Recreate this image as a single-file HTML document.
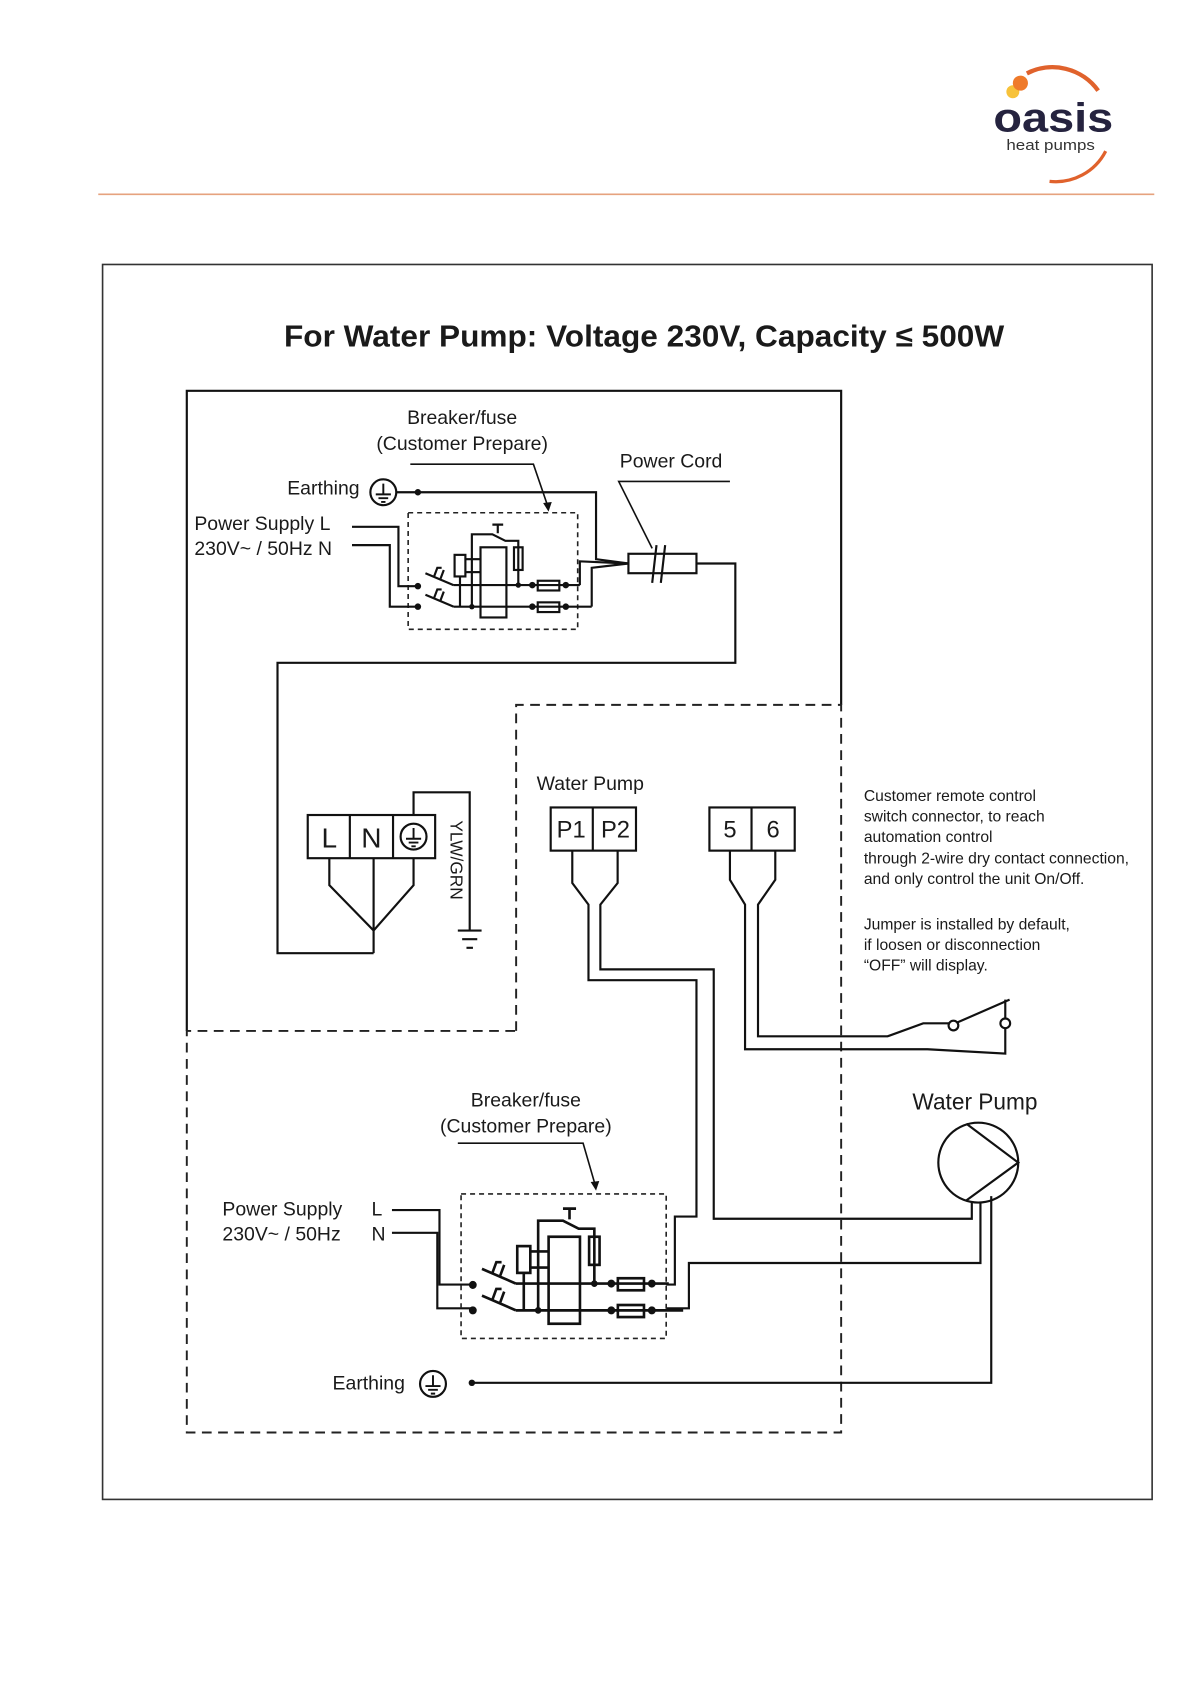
<!DOCTYPE html>
<html><head><meta charset="utf-8"><style>
html,body{margin:0;padding:0;background:#fff;}
svg{display:block;}
text{font-family:"Liberation Sans",sans-serif;fill:#1a1a1a;}
</style></head><body>
<svg width="1191" height="1684" viewBox="0 0 1103 1560" preserveAspectRatio="none" xmlns="http://www.w3.org/2000/svg">
<defs>
<g id="brk">
  <rect x="378" y="475" width="157" height="108" fill="none" stroke="#222" stroke-width="1.6" stroke-dasharray="5,4" vector-effect="non-scaling-stroke"/>
  <g fill="none" stroke="#111" stroke-width="2" vector-effect="non-scaling-stroke">
    <line x1="394" y1="531" x2="420" y2="542"/>
    <line x1="394" y1="551" x2="420" y2="562"/>
    <path d="M402 534 l3 -8 h4 M408 536 l3 -8 M402 554 l3 -8 h4 M408 556 l3 -8"/>
    <line x1="420" y1="542" x2="537" y2="542"/>
    <line x1="420" y1="562" x2="548" y2="562"/>
    <rect x="421" y="514" width="10" height="20"/>
    <line x1="426" y1="534" x2="426" y2="562"/>
    <line x1="431" y1="518" x2="445" y2="518"/>
    <line x1="431" y1="530" x2="445" y2="530"/>
    <rect x="445" y="507" width="24" height="65"/>
    <path d="M437 562 V495 H456 l12 6 H480 V542"/>
    <path d="M456 486 h10 M461 486 v8"/>
    <rect x="476" y="507" width="8" height="21"/>
    <rect x="498" y="538" width="20" height="9"/>
    <rect x="498" y="558" width="20" height="9"/>
  </g>
  <g fill="#111">
    <circle cx="387" cy="543" r="3"/><circle cx="387" cy="562" r="3"/>
    <circle cx="437" cy="562" r="2.5"/><circle cx="480" cy="542" r="2.5"/>
    <circle cx="493" cy="542" r="3"/><circle cx="493" cy="562" r="3"/>
    <circle cx="524" cy="542" r="3"/><circle cx="524" cy="562" r="3"/>
  </g>
</g>
<g id="earth">
  <circle cx="0" cy="0" r="12" fill="#fff" stroke="#111" stroke-width="2"/>
  <path d="M0 -8 V2 M-7 2 H7 M-4.5 5.5 H4.5 M-2 9 H2" stroke="#111" stroke-width="1.8" fill="none"/>
</g>
</defs>

<!-- logo -->
<path d="M951 68 A52 52 0 0 1 1017 84" fill="none" stroke="#e0622c" stroke-width="4"/>
<path d="M1024 140 A52 52 0 0 1 972 168" fill="none" stroke="#e0622c" stroke-width="3"/>
<circle cx="938" cy="85" r="6" fill="#f7c23a"/>
<circle cx="945" cy="77" r="7" fill="#ef7a2a"/>
<text x="920" y="122" font-size="38" font-weight="bold" textLength="111" lengthAdjust="spacingAndGlyphs" style="fill:#25233f">oasis</text>
<text x="932" y="139" font-size="14" textLength="82" lengthAdjust="spacingAndGlyphs" style="fill:#333">heat pumps</text>
<line x1="91" y1="180" x2="1069" y2="180" stroke="#e6a27e" stroke-width="1.5"/>

<!-- frame -->
<rect x="95" y="245" width="972" height="1144" fill="none" stroke="#333" stroke-width="1.5"/>
<text x="263" y="321" font-size="28" font-weight="bold" textLength="667" lengthAdjust="spacingAndGlyphs">For Water Pump: Voltage 230V, Capacity ≤ 500W</text>

<g fill="none" stroke="#111" stroke-width="2">
  <path d="M173 955 V362 H779 V653"/>
</g>
<g fill="none" stroke="#222" stroke-width="1.8" stroke-dasharray="9,6">
  <path d="M478 955 V653 H779 V1327 H173 V955 H478"/>
</g>

<!-- top section -->
<text x="428" y="393" font-size="18" text-anchor="middle">Breaker/fuse</text>
<text x="428" y="417" font-size="18" text-anchor="middle">(Customer Prepare)</text>
<path d="M380 430 H494 L507 468" fill="none" stroke="#111" stroke-width="1.5"/>
<path d="M503 466 L508 474 L511 465 Z" fill="#111"/>
<text x="574" y="433" font-size="18">Power Cord</text>
<path d="M676 446 H573 L604 508" fill="none" stroke="#111" stroke-width="1.5"/>
<text x="333" y="458" font-size="18" text-anchor="end">Earthing</text>
<use href="#earth" x="355" y="456"/>
<circle cx="387" cy="456" r="3" fill="#111"/>
<text x="180" y="491" font-size="18">Power Supply  L</text>
<text x="180" y="514" font-size="18">230V~ / 50Hz   N</text>
<use href="#brk"/>
<g fill="none" stroke="#111" stroke-width="2">
  <path d="M367 456 H552 V518 L582 522"/>
  <path d="M326 488 H369 V543 H387"/>
  <path d="M326 505 H361 V562 H387"/>
  <path d="M537 542 V520 L582 522"/>
  <path d="M548 562 V526 L582 522"/>
  <rect x="582" y="513" width="63" height="18"/>
  <path d="M608 505 L604 540 M616 505 L612 540"/>
  <path d="M645 522 H681 V614 H257 V883 H346"/>
</g>

<!-- LN terminal -->
<g fill="none" stroke="#111" stroke-width="2">
  <rect x="285" y="755" width="118" height="40"/>
  <line x1="324" y1="755" x2="324" y2="795"/><line x1="364" y1="755" x2="364" y2="795"/>
  <path d="M305 795 V820 L346 862 L383 820 V795 M346 795 V883"/>
  <path d="M383 755 V734 H435 V862 M424 862 H446 M428 870 H442 M432 878 H438"/>
</g>
<text x="305" y="785" font-size="26" text-anchor="middle">L</text>
<text x="344" y="785" font-size="26" text-anchor="middle">N</text>
<use href="#earth" x="383" y="775"/>
<text transform="translate(417,760) rotate(90)" font-size="16">YLW/GRN</text>

<!-- water pump terminals -->
<text x="497" y="732" font-size="18">Water Pump</text>
<g fill="none" stroke="#111" stroke-width="2">
  <rect x="510" y="748" width="79" height="40"/><line x1="549" y1="748" x2="549" y2="788"/>
  <rect x="657" y="748" width="79" height="40"/><line x1="696" y1="748" x2="696" y2="788"/>
  <path d="M530 788 V818 L545 838 V908 H645 V1127 H625 V1190 H617"/>
  <path d="M572 788 V818 L556 838 V898 H661 V1129 H900 V1113"/>
  <path d="M908 1113 V1170 H638 V1212 H617"/>
  <path d="M918 1108 V1281 H437"/>
  <path d="M676 788 V815 L690 838 V972 H859 L931 976 V952"/>
  <path d="M718 788 V815 L702 838 V960 H822 L855 948 H879"/>
  <path d="M887 947 L935 926"/>
  <circle cx="883" cy="950" r="4.5" fill="#fff"/>
  <circle cx="931" cy="948" r="4.5" fill="#fff"/>
  <line x1="931" y1="943" x2="931" y2="926"/>
  <circle cx="906" cy="1077" r="37"/>
  <path d="M895 1041 L943 1077 L895 1112"/>
</g>
<text x="529" y="776" font-size="22" text-anchor="middle">P1</text>
<text x="570" y="776" font-size="22" text-anchor="middle">P2</text>
<text x="676" y="776" font-size="22" text-anchor="middle">5</text>
<text x="716" y="776" font-size="22" text-anchor="middle">6</text>

<g font-size="14.5">
<text x="800" y="742">Customer remote control</text>
<text x="800" y="761">switch connector, to reach</text>
<text x="800" y="780">automation control</text>
<text x="800" y="800">through 2-wire dry contact connection,</text>
<text x="800" y="819">and only control the unit On/Off.</text>
<text x="800" y="861">Jumper is installed by default,</text>
<text x="800" y="880">if loosen or disconnection</text>
<text x="800" y="899">“OFF” will display.</text>
</g>
<text x="845" y="1028" font-size="21">Water Pump</text>

<!-- lower section -->
<text x="487" y="1025" font-size="18" text-anchor="middle">Breaker/fuse</text>
<text x="487" y="1049" font-size="18" text-anchor="middle">(Customer Prepare)</text>
<path d="M424 1059 H540 L551 1097" fill="none" stroke="#111" stroke-width="1.5"/>
<path d="M547 1095 L552 1103 L555 1094 Z" fill="#111"/>
<text x="206" y="1126" font-size="18">Power Supply</text>
<text x="206" y="1149" font-size="18">230V~ / 50Hz</text>
<text x="344" y="1126" font-size="18">L</text>
<text x="344" y="1149" font-size="18">N</text>
<g fill="none" stroke="#111" stroke-width="2">
  <path d="M363 1121 H407 V1190 H437"/>
  <path d="M363 1142 H405 V1212 H437"/>
</g>
<use href="#brk" transform="translate(427,1106) scale(1.21,1.24) translate(-378,-475)"/>
<text x="375" y="1287" font-size="18" text-anchor="end">Earthing</text>
<use href="#earth" x="401" y="1282"/>
<circle cx="437" cy="1281" r="3" fill="#111"/>
</svg>
</body></html>
